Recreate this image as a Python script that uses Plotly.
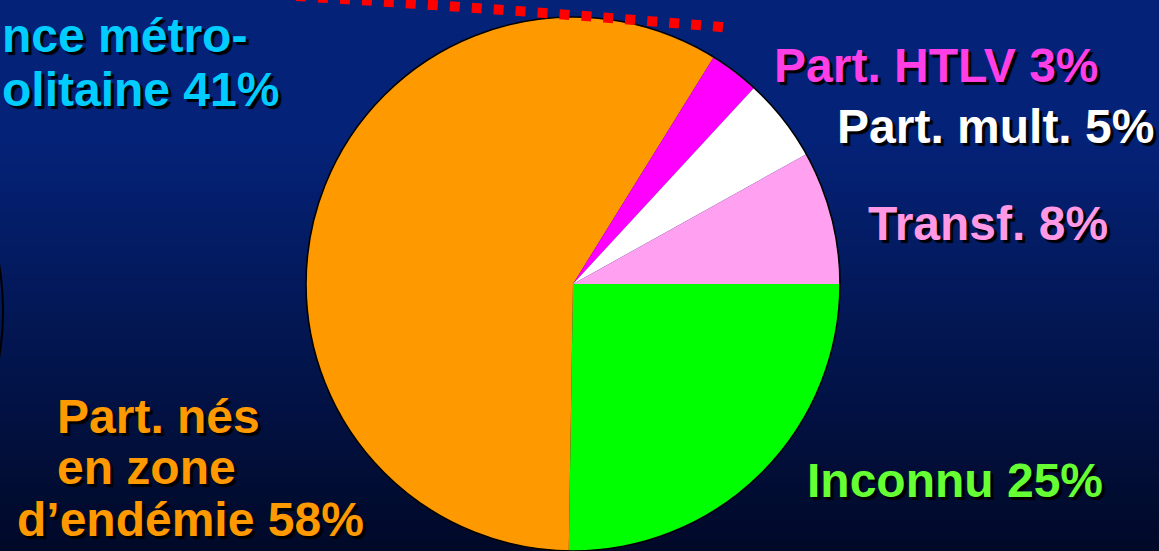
import plotly.graph_objects as go

# slices, clockwise from 3 o'clock
labels = ["Inconnu", "Part. nés en zone d'endémie", "Part. HTLV", "Part. mult.", "Transf."]
values = [25, 58, 3, 5, 8]
slice_colors = ["#00FF00", "#FF9900", "#FF00FF", "#FFFFFF", "#FFA0F0"]

# label texts shown around the pie
label_texts = ["Inconnu 25%", "Part. nés", "en zone", "d’endémie 58%",
               "Part. HTLV 3%", "Part. mult. 5%", "Transf. 8%"]
label_colors = ["#66FF33", "#FF9900", "#FF9900", "#FF9900",
                "#FF3FE6", "#FFFFFF", "#FF99E6"]

# visible part of the label of the neighbouring pie
side_texts = ["nce métro-", "olitaine 41%"]
side_color = "#00CCFF"

W, H = 1159, 551


def px_x(x):
    return x / W


def px_y(y):
    return 1 - y / H


fig = go.Figure()

# pie: center ~ (573, 284), radius 267 px
pie_domain = dict(x=[px_x(306), px_x(840)], y=[0, px_y(17)])

fig.add_trace(go.Pie(
    labels=labels,
    values=values,
    sort=False,
    direction="clockwise",
    rotation=90,
    marker=dict(colors=slice_colors, line=dict(width=0)),
    textinfo="none",
    hoverinfo="label+percent",
    showlegend=False,
    domain=pie_domain,
))

# outer outline only
fig.add_trace(go.Pie(
    labels=["outline"],
    values=[1],
    marker=dict(colors=["rgba(0,0,0,0)"], line=dict(width=1.6, color="black")),
    textinfo="none",
    hoverinfo="skip",
    showlegend=False,
    domain=pie_domain,
))

# background gradient as thin bands
shapes = []
n_bands = 60
top = (4, 34, 120)
bottom = (1, 9, 40)
for i in range(n_bands):
    t = i / (n_bands - 1)
    k = max(0.0, (t - 0.25) / 0.75)
    c = tuple(int(round(top[j] + (bottom[j] - top[j]) * k)) for j in range(3))
    shapes.append(dict(
        type="rect", xref="paper", yref="paper", layer="below",
        x0=0, x1=1, y0=1 - (i + 1) / n_bands, y1=1 - i / n_bands + 0.002,
        fillcolor=f"rgb{c}", line=dict(width=0),
    ))

# red dotted curve at the top
shapes.append(dict(
    type="path", xref="paper", yref="paper",
    path=f"M {px_x(296)},{px_y(-4)} Q {px_x(520)},{px_y(10)} {px_x(733)},{px_y(28)}",
    line=dict(color="#FF0000", width=10, dash="10px,12px"),
))

# edge of the neighbouring pie on the left
shapes.append(dict(
    type="circle", xref="paper", yref="paper",
    x0=px_x(-557), x1=px_x(3), y0=px_y(591), y1=px_y(31),
    line=dict(color="black", width=2), fillcolor="rgba(0,0,0,0)",
))

font_family = "Liberation Sans, Arial, sans-serif"
shadow = "3px 3px 1px #000000"
font_size = 48

annotations = []
# (text index, x, y, anchor)
placements = [
    (0, 955, 480, "center"),
    (1, 55, 416, "left"),
    (2, 55, 467, "left"),
    (3, 15, 519, "left"),
    (4, 937, 65, "center"),
    (5, 995, 127, "center"),
    (6, 988, 223, "center"),
]
for idx, x, y, anchor in placements:
    annotations.append(dict(
        text=f"<b>{label_texts[idx]}</b>",
        x=px_x(x), y=px_y(y), xref="paper", yref="paper",
        xanchor=anchor, yanchor="middle", showarrow=False,
        font=dict(family=font_family, size=font_size, color=label_colors[idx], shadow=shadow),
    ))

for text, y in zip(side_texts, [35, 89]):
    annotations.append(dict(
        text=f"<b>{text}</b>",
        x=0, y=px_y(y), xref="paper", yref="paper",
        xanchor="left", yanchor="middle", showarrow=False,
        font=dict(family=font_family, size=font_size, color=side_color, shadow=shadow),
    ))

fig.update_layout(
    width=W,
    height=H,
    margin=dict(l=0, r=0, t=0, b=0),
    paper_bgcolor="#04227A",
    plot_bgcolor="rgba(0,0,0,0)",
    shapes=shapes,
    annotations=annotations,
    showlegend=False,
)

fig.write_html(
    "out.html",
    config={"displayModeBar": False},
    post_script="document.body.style.margin='0';document.body.style.overflow='hidden';",
)
